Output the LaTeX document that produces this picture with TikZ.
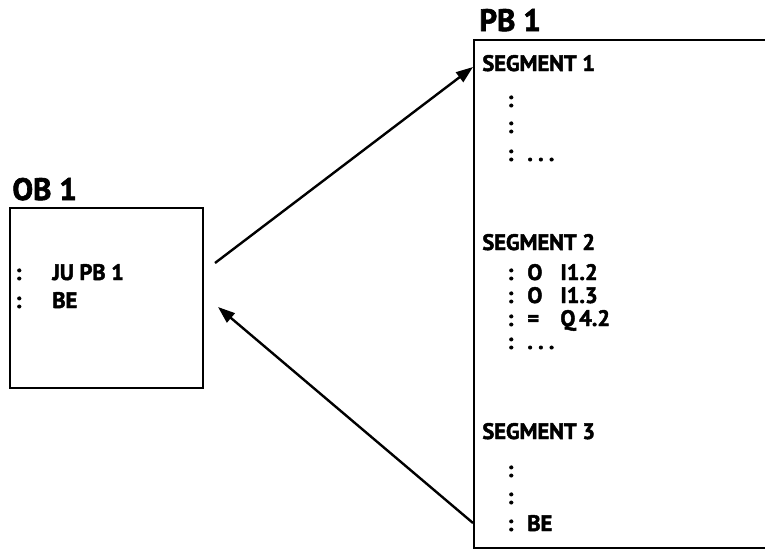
\documentclass[tikz,border=0pt]{standalone}
\usepackage{fontspec}
\setmainfont[BoldFeatures={FakeBold=2}]{PT Sans}
\usetikzlibrary{arrows.meta}
\newcommand{\drawthick}{\draw[line width=1pt]}
\newcommand{\segdots}{.\hspace{2.6pt}.\hspace{2.6pt}.}
\newcommand{\codeline}[4]{\node[code] (#1) at (507,#2) {\makebox[10pt][l]{:}\makebox[16.5pt][l]{#3}#4};}

\begin{document}
\begin{tikzpicture}[x=0.5pt,y=-0.5pt,
  code/.style={anchor=base west, inner sep=0pt, font=\bfseries\fontsize{11.2}{13}\selectfont},
  title/.style={anchor=base west, inner sep=0pt, font=\bfseries\fontsize{15.5}{18}\selectfont},
  jump/.style={line width=1.2pt, -{Triangle[length=8.5pt,width=6pt]}}]
\useasboundingbox (0,0) rectangle (765,553);
% OB 1
\node[title] (obtitle) at (12,200) {OB 1};
\drawthick (10,208) rectangle (203,388);
\node[code] (objump) at (15,280) {\makebox[18.5pt][l]{:}JU PB 1};
\node[code] (obend) at (15,308) {\makebox[18.5pt][l]{:}BE};
% PB 1
\node[title] (pbtitle) at (479,31) {PB 1};
\drawthick (770,40)--(474,40)--(474,548)--(770,548);
\node[code] (seg1) at (482,71) {SEGMENT 1};
\codeline{s1a}{107}{}{}
\codeline{s1b}{133}{}{}
\codeline{s1c}{161}{\segdots}{}
\node[code] (seg2) at (482,250) {SEGMENT 2};
\codeline{s2a}{280}{O}{I1.2}
\codeline{s2b}{303}{O}{I1.3}
\codeline{s2c}{326}{=}{Q\,4.2}
\codeline{s2d}{349}{\segdots}{}
\node[code] (seg3) at (482,439) {SEGMENT 3};
\codeline{s3a}{477}{}{}
\codeline{s3b}{504}{}{}
\codeline{s3c}{531}{BE}{}
% jumps
\coordinate (jumpout) at (215,263);
\coordinate (seg1in) at (473,67);
\coordinate (endout) at (473,523);
\coordinate (obin) at (218,307);
\draw[jump] (jumpout)--(seg1in);
\draw[jump] (endout)--(obin);
\end{tikzpicture}
\end{document}
